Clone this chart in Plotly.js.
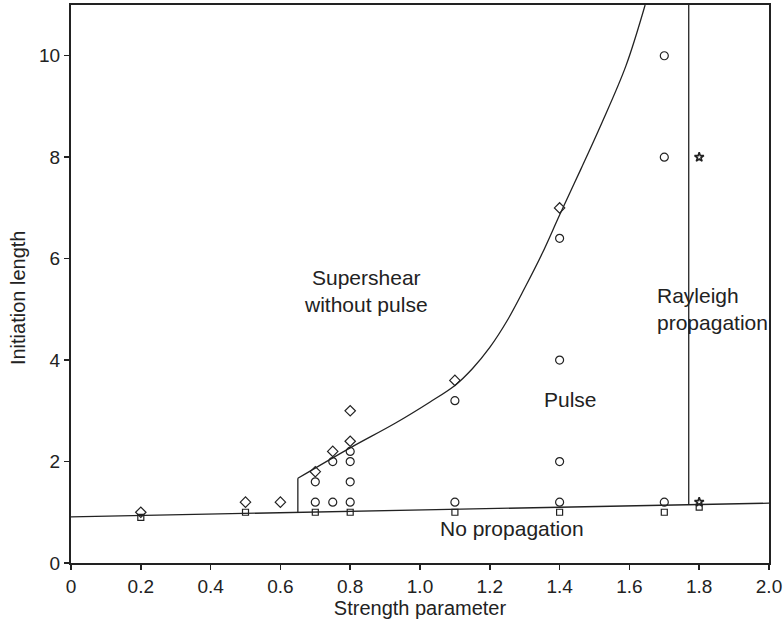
<!DOCTYPE html>
<html>
<head>
<meta charset="utf-8">
<script src="https://cdn.plot.ly/plotly-3.0.1.min.js"></script>
<style>html,body{margin:0;padding:0;background:#fff;}#chart{width:783px;height:621px;}</style>
</head>
<body>
<div id="chart"></div>
<script>
// Data points
const diamondX = [0.2, 0.5, 0.6, 0.7, 0.75, 0.8, 0.8, 1.1, 1.4];
const diamondY = [1.0, 1.2, 1.2, 1.8, 2.2, 2.4, 3.0, 3.6, 7.0];
const circleX = [0.7, 0.7, 0.75, 0.75, 0.8, 0.8, 0.8, 0.8, 1.1, 1.1, 1.4, 1.4, 1.4, 1.4, 1.7, 1.7, 1.7];
const circleY = [1.2, 1.6, 1.2, 2.0, 1.2, 1.6, 2.0, 2.2, 1.2, 3.2, 1.2, 2.0, 4.0, 6.4, 1.2, 8.0, 10.0];
const squareX = [0.2, 0.5, 0.7, 0.8, 1.1, 1.4, 1.7, 1.8];
const squareY = [0.9, 1.0, 1.0, 1.0, 1.0, 1.0, 1.0, 1.1];
const starX = [1.8, 1.8];
const starY = [1.2, 8.0];

// Boundary lines
const lowerX = [0, 2.0];
const lowerY = [0.91, 1.18];
const stepX = [0.65, 0.65];
const stepY = [1.0, 1.67];
const upperX = [0.65, 0.8, 0.93, 1.03, 1.1, 1.15, 1.2, 1.25, 1.3, 1.35, 1.4, 1.46, 1.52, 1.59, 1.645];
const upperY = [1.67, 2.27, 2.76, 3.18, 3.5, 3.83, 4.25, 4.78, 5.42, 6.1, 6.86, 7.75, 8.66, 9.8, 11.0];
const rayleighX = [1.77, 1.77];
const rayleighY = [1.15, 11.0];

// Tick labels
const xTickVals = [0, 0.2, 0.4, 0.6, 0.8, 1.0, 1.2, 1.4, 1.6, 1.8, 2.0];
const xTickText = ['0', '0.2', '0.4', '0.6', '0.8', '1.0', '1.2', '1.4', '1.6', '1.8', '2.0'];
const yTickVals = [0, 2, 4, 6, 8, 10];
const yTickText = ['0', '2', '4', '6', '8', '10'];

const ink = '#222';
const lineStyle = {color: ink, width: 1.3};

const traces = [
  {x: lowerX, y: lowerY, mode: 'lines', line: lineStyle, hoverinfo: 'skip'},
  {x: stepX, y: stepY, mode: 'lines', line: lineStyle, hoverinfo: 'skip'},
  {x: upperX, y: upperY, mode: 'lines', line: Object.assign({shape: 'spline', smoothing: 1.0}, lineStyle), hoverinfo: 'skip'},
  {x: rayleighX, y: rayleighY, mode: 'lines', line: lineStyle, hoverinfo: 'skip'},
  {x: diamondX, y: diamondY, mode: 'markers', marker: {symbol: 'diamond-open', size: 8, color: ink, line: {width: 1.2, color: ink}}},
  {x: circleX, y: circleY, mode: 'markers', marker: {symbol: 'circle-open', size: 8, color: ink, line: {width: 1.2, color: ink}}},
  {x: squareX, y: squareY, mode: 'markers', marker: {symbol: 'square-open', size: 6, color: ink, line: {width: 1.2, color: ink}}},
  {x: starX, y: starY, mode: 'markers', marker: {symbol: 'star-open', size: 7, color: ink, line: {width: 1.6, color: ink}}}
];

const fam = 'Liberation Sans, Arial, Helvetica, sans-serif';
const tickFont = {family: fam, size: 19, color: ink};
const textFont = {family: fam, size: 21, color: ink};

const layout = {
  width: 783, height: 621,
  margin: {l: 71, r: 14, t: 5, b: 58},
  paper_bgcolor: '#fff', plot_bgcolor: '#fff',
  showlegend: false,
  font: tickFont,
  xaxis: {
    range: [0, 2.0], tickvals: xTickVals, ticktext: xTickText,
    showgrid: false, zeroline: false, showline: true, mirror: true,
    linecolor: ink, linewidth: 2, ticks: 'outside', ticklen: 5, tickcolor: ink, tickwidth: 1.5,
    tickfont: tickFont, ticklabeloverflow: 'allow',
    title: {text: 'Strength parameter', font: {family: fam, size: 20, color: ink}, standoff: 4}
  },
  yaxis: {
    range: [0, 11], tickvals: yTickVals, ticktext: yTickText,
    showgrid: false, zeroline: false, showline: true, mirror: true,
    linecolor: ink, linewidth: 2, ticks: 'outside', ticklen: 5, tickcolor: ink, tickwidth: 1.5,
    tickfont: tickFont
  },
  annotations: [
    {xref: 'paper', yref: 'paper', x: -0.0757, y: 0.475, text: 'Initiation length', textangle: -90, showarrow: false, font: {family: fam, size: 20, color: ink}, xanchor: 'center', yanchor: 'middle'},
    {x: 0.846, y: 5.37, text: 'Supershear<br>without pulse', showarrow: false, font: textFont, xanchor: 'center', yanchor: 'middle'},
    {x: 1.431, y: 3.23, text: 'Pulse', showarrow: false, font: textFont, xanchor: 'center', yanchor: 'middle'},
    {x: 1.263, y: 0.69, text: 'No propagation', showarrow: false, font: textFont, xanchor: 'center', yanchor: 'middle'},
    {x: 1.674, y: 5.0, text: 'Rayleigh<br>propagation', showarrow: false, font: textFont, xanchor: 'left', yanchor: 'middle', align: 'left'}
  ]
};

Plotly.newPlot('chart', traces, layout, {displayModeBar: false, staticPlot: true});
</script>
</body>
</html>
